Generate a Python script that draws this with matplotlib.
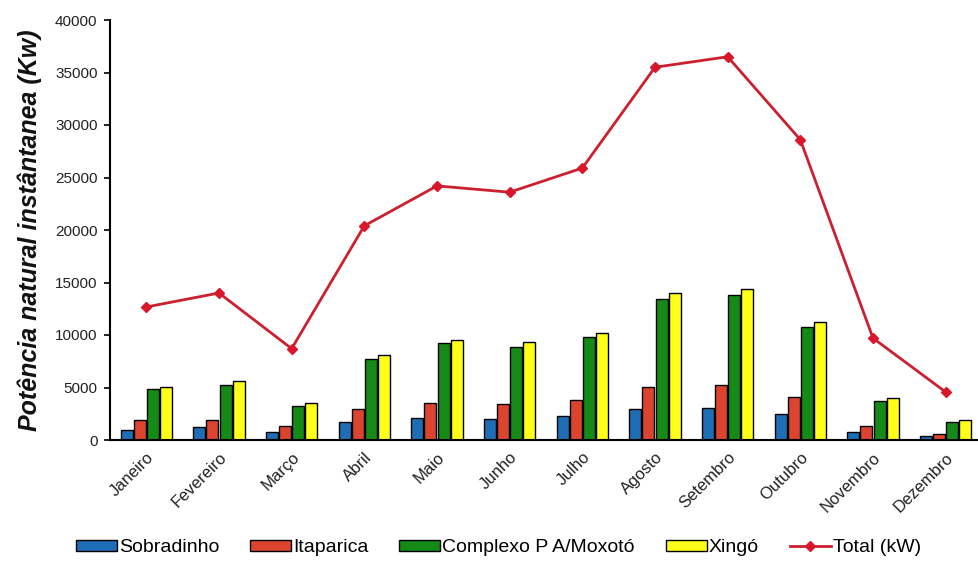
import matplotlib
matplotlib.use("Agg")
import matplotlib.pyplot as plt
import numpy as np

months = ["Janeiro", "Fevereiro", "Março", "Abril", "Maio", "Junho", "Julho",
          "Agosto", "Setembro", "Outubro", "Novembro", "Dezembro"]
sobradinho = [950, 1200, 800, 1750, 2130, 1970, 2290, 2920, 3050, 2480, 790, 410]
itaparica = [1900, 1900, 1330, 2920, 3560, 3400, 3810, 5080, 5210, 4130, 1360, 600]
complexo = [4890, 5270, 3270, 7710, 9200, 8860, 9780, 13460, 13780, 10790, 3750, 1710]
xingo = [5080, 5590, 3560, 8060, 9560, 9370, 10220, 14030, 14380, 11240, 3970, 1870]
total = [12670, 14000, 8700, 20400, 24200, 23600, 25900, 35500, 36500, 28600, 9700, 4570]
yticks = [0, 5000, 10000, 15000, 20000, 25000, 30000, 35000, 40000]

plt.rcParams['font.family'] = ['Liberation Sans', 'DejaVu Sans']

fig = plt.figure(figsize=(9.79, 5.69), dpi=100)
ax = fig.add_axes([110/979, 1-440/569, 872/979, 420/569])

x = np.arange(len(months))
w = 0.165
series = [(sobradinho, '#1f6db5', 'Sobradinho'),
          (itaparica, '#dc4430', 'Itaparica'),
          (complexo, '#168a16', 'Complexo P A/Moxotó'),
          (xingo, '#ffff1a', 'Xingó')]
offs = [-0.27, -0.09, 0.09, 0.27]
handles = []
for (vals, col, lab), o in zip(series, offs):
    b = ax.bar(x + o, vals, width=w, color=col, edgecolor='black', linewidth=1.0, label=lab)
    handles.append(b)
ln, = ax.plot(x, total, color='#cc2030', linewidth=2, marker='D', markersize=5,
              markerfacecolor='#d8182a', markeredgecolor='#d8182a', label='Total (kW)')
handles.append(ln)

ax.set_xlim(-0.5, 11.5)
ax.set_ylim(0, 40000)
ax.set_yticks(yticks)
ax.set_yticklabels([str(v) for v in yticks], fontsize=11, color='#222222')
ax.set_xticks(x)
ax.set_xticklabels(months, rotation=45, ha='right', rotation_mode='anchor',
                   fontsize=12, color='#222222')
ax.tick_params(axis='x', length=0, pad=7)
ax.tick_params(axis='y', length=4, width=1.2, direction='out', pad=5)
for s in ['top', 'right']:
    ax.spines[s].set_visible(False)
for s in ['left', 'bottom']:
    ax.spines[s].set_linewidth(1.5)
    ax.spines[s].set_color('black')

ax.set_ylabel('Potência natural instântanea (Kw)', fontsize=18, fontstyle='italic',
              fontweight='bold', color='#111111', labelpad=9)

fig.legend(handles=handles, labels=[h.get_label() for h in handles],
           loc='center', bbox_to_anchor=(0.509, 1-548/569), ncol=5, frameon=False,
           fontsize=14, handlelength=2.1, handleheight=0.55, handletextpad=0.1,
           columnspacing=1.6)

fig.savefig('out.png', dpi=100)
